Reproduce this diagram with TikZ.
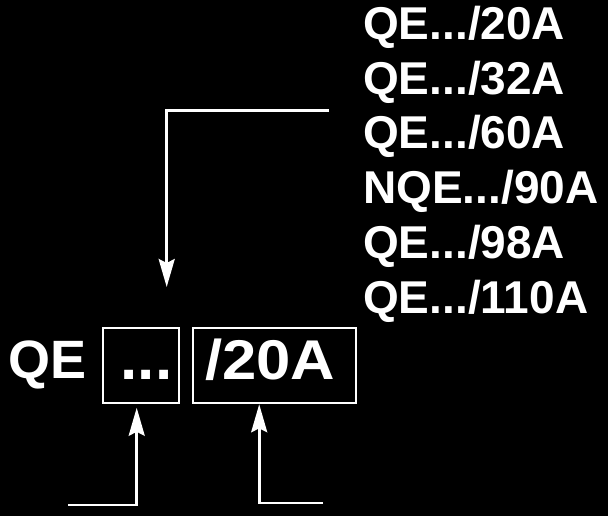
\documentclass[tikz,border=0pt]{standalone}
\usepackage{fontspec}
\setmainfont{Liberation Sans}
\usetikzlibrary{arrows.meta,calc}
\tikzset{
  txt/.style={text=white, inner sep=0pt, anchor=base west, font=\bfseries\fontsize{46}{46}\selectfont},
  bigtxt/.style={text=white, inner sep=0pt, anchor=base west, font=\bfseries\fontsize{54}{54}\selectfont},
  box/.style={draw=white, line width=2pt, inner sep=0pt},
  arr/.style={draw=white, line width=2.6pt, -{Stealth[length=28pt,width=16pt,inset=4pt]}},
}
\begin{document}
\begin{tikzpicture}[x=1pt,y=-1pt]
\fill[black] (0,0) rectangle (608,516);
\useasboundingbox (0,0) rectangle (608,516);
% list of types
\node[txt] (t1) at (363,39.5) {QE.../20A};
\node[txt] (t2) at (363,94.2) {QE.../32A};
\node[txt] (t3) at (363,148.9) {QE.../60A};
\node[txt] (t4) at (363,203.6) {NQE.../90A};
\node[txt] (t5) at (363,258.3) {QE.../98A};
\node[txt] (t6) at (363,313) {QE.../110A};
% bottom designation
\node[bigtxt] (qe) at (8,378.3) {QE};
\node[box, minimum width=76pt, minimum height=75.6pt] (dotsbox) at (140.7,365.5) {};
\node[box, minimum width=163pt, minimum height=75.6pt] (valbox) at (274.2,365.5) {};
\node[bigtxt, font=\bfseries\fontsize{62}{62}\selectfont] (dots) at (120.5,379) {...};
\node[bigtxt] (val) at (205,379) {\scalebox{1.1}[1]{\fontsize{56}{56}\selectfont /20A}};
% connectors
\coordinate (topstart) at (329,110.7);
\coordinate (toptip) at (166.7,287);
\draw[arr] (topstart) -| (toptip);
\coordinate (blstart) at (68,505);
\draw[arr] (blstart) -| ($(dotsbox.south)+(-4,3.5)$);
\coordinate (brstart) at (323,503);
\draw[arr] (brstart) -| ($(valbox.south)+(-15,0)$);
\end{tikzpicture}
\end{document}
